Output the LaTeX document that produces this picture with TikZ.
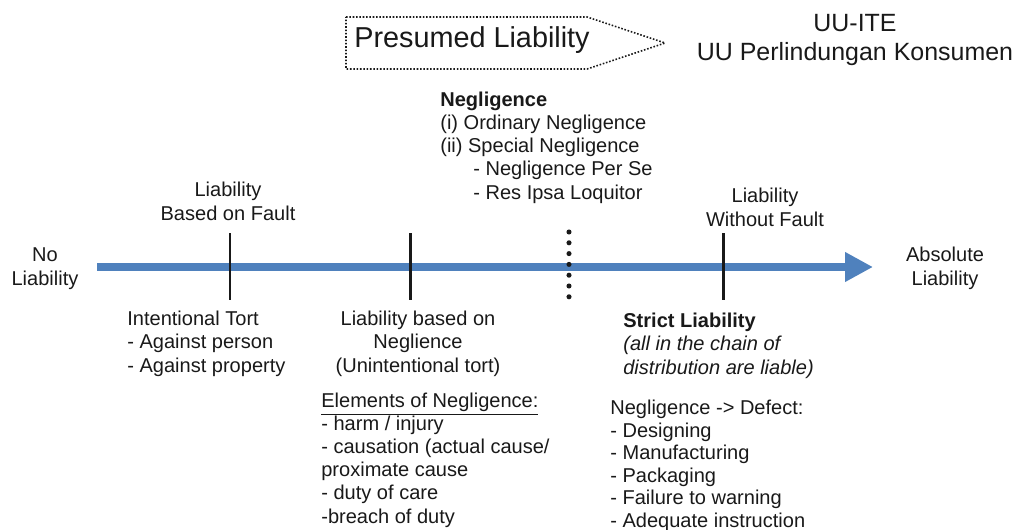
\documentclass[tikz,border=0pt]{standalone}
\usepackage{fontspec}
\setmainfont{Liberation Sans}
\usetikzlibrary{arrows.meta}
\definecolor{axisblue}{RGB}{79,129,189}
\definecolor{inkgray}{RGB}{25,25,25}

\begin{document}
\begin{tikzpicture}[x=0.02cm,y=-0.02cm,
  txt/.style={font=\fontsize{11.4}{13.1}\selectfont,inner sep=0pt,text=inkgray},
  lefttxt/.style={txt,align=left,anchor=base west},
  midtxt/.style={txt,align=center,anchor=base},
  axis/.style={axisblue,line width=4pt,-{Triangle[length=0.56cm,width=0.56cm]}},
  tick/.style={inkgray,line width=1.7pt},
  dotline/.style={inkgray,line width=2.9pt,line cap=round,dash pattern=on 0pt off 10.8*0.02cm},
  presumed/.style={inkgray,line width=0.9pt,densely dotted}]
  \useasboundingbox (0,0) rectangle (1020,530);

  \coordinate (L) at (97,267);
  \coordinate (R) at (873,267);

  \coordinate (F1) at (230,233);
  \coordinate (F2) at (230,300);
  \coordinate (N1) at (410,233);
  \coordinate (N2) at (410,300);
  \coordinate (S1) at (723,233);
  \coordinate (S2) at (723,300);
  \coordinate (D1) at (569,232);
  \coordinate (D2) at (569,297);

  \coordinate (P1) at (346,17);
  \coordinate (P2) at (587,17);
  \coordinate (P3) at (665,43);
  \coordinate (P4) at (587,69);
  \coordinate (P5) at (346,69);

  % garis waktu
  \draw[axis] (L) -- (R);
  \draw[dotline] (D1) -- (D2);
  \draw[tick] (F1) -- (F2);
  \draw[tick] (N1) -- (N2);
  \draw[tick] (S1) -- (S2);

  % kotak presumed
  \draw[presumed] (P1) -- (P2) -- (P3) -- (P4) -- (P5) -- cycle;
  \node[txt,anchor=base,font=\fontsize{16.4}{19}\selectfont] (presumed) at (472,48) {Presumed Liability};
  % (anchor base = baris terakhir)
  \node[midtxt,font=\fontsize{14.2}{17}\selectfont] (uu) at (855,61) {UU-ITE\\UU Perlindungan Konsumen};

  % label atas
  \node[midtxt] (noliab) at (45,285) {No\\Liability};
  \node[midtxt] (fault) at (228,220) {Liability\\Based on Fault};
  \node[lefttxt] (negl) at (440,153) {\textbf{Negligence}\\(i) Ordinary Negligence\\(ii) Special Negligence};
  \node[lefttxt] (neglsub) at (473,199) {- Negligence Per Se\\- Res Ipsa Loquitor};
  \node[midtxt] (nofault) at (765,226) {Liability\\Without Fault};
  \node[midtxt] (absolute) at (945,285) {Absolute\\Liability};

  % label bawah
  \node[lefttxt] (tort) at (127,372) {Intentional Tort\\- Against person\\- Against property};
  \node[midtxt] (unint) at (418,372) {Liability based on\\Neglience\\(Unintentional tort)};
  \node[lefttxt] (strict) at (623,374) {\textbf{Strict Liability}\\\textit{(all in the chain of}\\\textit{distribution are liable)}};
  \node[lefttxt] (elements) at (321,523) {\underline{Elements of Negligence:}\\- harm / injury\\- causation (actual cause/\\proximate cause\\- duty of care\\-breach of duty};
  \node[lefttxt,font=\fontsize{11.4}{12.8}\selectfont] (defect) at (610,527) {Negligence -> Defect:\\- Designing\\- Manufacturing\\- Packaging\\- Failure to warning\\- Adequate instruction};
\end{tikzpicture}
\end{document}
